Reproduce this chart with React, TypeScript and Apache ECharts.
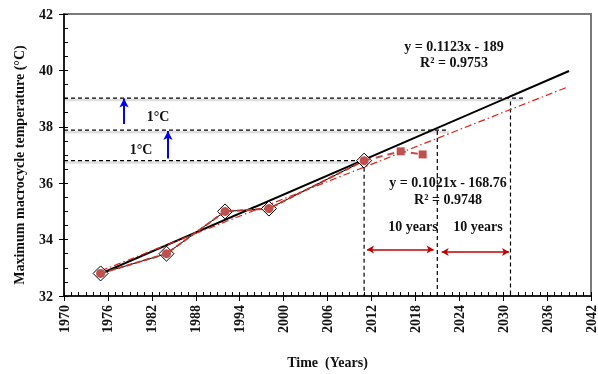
import React, { useEffect, useRef } from "react";
import * as echarts from "echarts";

// Observed data
const years = [1975, 1984, 1992, 1998, 2011];
const temps = [32.8, 33.5, 35.0, 35.1, 36.8];
const projYears = [2011, 2016, 2019];
const projTemps = [36.8, 37.13, 37.02];

// Trend lines (end points)
const blackTrendX = [1975, 2039];
const blackTrendY = [32.79, 39.98];
const redTrendX = [1975, 2038.6];
const redTrendY = [32.89, 39.39];

// Reference levels
const hLevels = [36.8, 37.88, 39.02];
const hLevelEnds = [2011, 2022.6, 2032.7];
const vYears = [2011, 2021, 2031];
const vTops = [36.8, 37.85, 38.9];

// Arrows
const blueArrowX = [1978.2, 1984.2];
const blueArrowFrom = [38.1, 36.88];
const blueArrowTo = [39.0, 37.85];
const redArrowY = [33.65, 33.56];
const redArrowFrom = [2011.4, 2021.6];
const redArrowTo = [2020.5, 2030.8];

const xTicks = { min: 1970, max: 2042, step: 6 };
const yTicks = { min: 32, max: 42, step: 2 };

const FONT = '"Liberation Serif", "Times New Roman", serif';

export default function App() {
  const ref = useRef<HTMLDivElement>(null);
  useEffect(() => {
    if (!ref.current) return;
    const chart = echarts.init(ref.current, undefined, { renderer: "svg" });
    const dashed = {
      color: "#000",
      width: 1.2,
      type: [4, 3] as any,
    };
    const hShadow = hLevels.map((lv, i) => ({
      type: "line",
      data: [
        [xTicks.min, lv - 0.07],
        [hLevelEnds[i], lv - 0.07],
      ],
      symbol: "none",
      lineStyle: { color: "rgba(0,0,0,0.13)", width: 2.5, type: "solid" },
      z: 1,
    }));
    const hSeries = hLevels.map((lv, i) => ({
      type: "line",
      data: [
        [xTicks.min, lv],
        [hLevelEnds[i], lv],
      ],
      symbol: "none",
      lineStyle: dashed,
      z: 2,
    }));
    const vSeries = vYears.map((yr, i) => ({
      type: "line",
      data: [
        [yr, vTops[i]],
        [yr, yTicks.min],
      ],
      symbol: "none",
      lineStyle: dashed,
      z: 2,
    }));
    const txt = (text: string, x: number, y: number, rotation = 0) => ({
      type: "text",
      x,
      y,
      rotation,
      style: {
        text,
        fill: "#111",
        font: `bold 14px ${FONT}`,
        textAlign: "center",
        textVerticalAlign: "middle",
        align: "center",
        verticalAlign: "middle",
      },
      z: 100,
    });
    chart.setOption({
      animation: false,
      grid: {
        left: 64,
        top: 14,
        right: 3,
        bottom: 75,
        show: true,
        borderColor: "#7a7a7a",
        borderWidth: 2,
        backgroundColor: "transparent",
      },
      xAxis: [
        {
          type: "value",
          min: xTicks.min,
          max: xTicks.max,
          interval: xTicks.step,
          axisLine: { lineStyle: { color: "#000", width: 1.5 } },
          axisTick: { show: true, length: 5, lineStyle: { color: "#000" } },
          axisLabel: {
            rotate: 90,
            margin: 9,
            color: "#111",
            fontFamily: FONT,
            fontWeight: "bold",
            fontSize: 14,
            formatter: (v: number) => String(v),
          },
          splitLine: { show: false },
          name: "Time\u00a0 (Years)",
          nameLocation: "middle",
          nameGap: 59,
          nameTextStyle: {
            color: "#111",
            fontFamily: FONT,
            fontWeight: "bold",
            fontSize: 14,
          },
        },
        {
          type: "value",
          position: "bottom",
          min: xTicks.min,
          max: xTicks.max,
          interval: 1,
          axisLine: { show: false },
          axisTick: { show: true, inside: true, length: 4, lineStyle: { color: "#000" } },
          axisLabel: { show: false },
          splitLine: { show: false },
        },
      ],
      yAxis: [
        {
          type: "value",
          min: yTicks.min,
          max: yTicks.max,
          interval: yTicks.step,
          axisLine: { show: true, lineStyle: { color: "#000", width: 1.5 } },
          axisTick: { show: true, length: 5, lineStyle: { color: "#000" } },
          axisLabel: {
            margin: 11,
            color: "#111",
            fontFamily: FONT,
            fontWeight: "bold",
            fontSize: 14,
          },
          splitLine: { show: false },
        },
        {
          type: "value",
          position: "left",
          min: yTicks.min,
          max: yTicks.max,
          interval: 0.5,
          axisLine: { show: false },
          axisTick: { show: true, inside: true, length: 4, lineStyle: { color: "#000" } },
          axisLabel: { show: false },
          splitLine: { show: false },
        },
      ],
      series: [
        ...hShadow,
        ...hSeries,
        ...vSeries,
        {
          type: "line",
          data: blackTrendX.map((x, i) => [x, blackTrendY[i]]),
          symbol: "none",
          lineStyle: { color: "#000", width: 2 },
          z: 3,
          markLine: {
            silent: true,
            symbol: ["none", "arrow"],
            symbolSize: [7, 9],
            label: { show: false },
            lineStyle: { color: "#0000ff", width: 2, type: "solid" },
            data: blueArrowX.map((x, i) => [
              { coord: [x, blueArrowFrom[i]] },
              { coord: [x, blueArrowTo[i]] },
            ]),
          },
        },
        {
          type: "line",
          data: redTrendX.map((x, i) => [x, redTrendY[i]]),
          symbol: "none",
          lineStyle: { color: "#e0201a", width: 1.2, type: [7, 3, 1.5, 3] },
          z: 3,
          markLine: {
            silent: true,
            symbol: ["arrow", "arrow"],
            symbolSize: [6, 7],
            label: { show: false },
            lineStyle: { color: "#c00000", width: 1.5, type: "solid" },
            data: redArrowY.map((y, i) => [
              { coord: [redArrowFrom[i], y] },
              { coord: [redArrowTo[i], y] },
            ]),
          },
        },
        {
          type: "line",
          data: years.map((x, i) => [x, temps[i]]),
          symbol: "diamond",
          symbolSize: 15,
          itemStyle: { color: "#ffffff", borderColor: "#000", borderWidth: 1 },
          lineStyle: { color: "#000", width: 1 },
          z: 4,
        },
        {
          type: "line",
          data: years.map((x, i) => [x, temps[i]]),
          symbol: "circle",
          symbolSize: 9,
          itemStyle: { color: "#c0504d", borderWidth: 0 },
          lineStyle: { color: "#c0392b", width: 2, type: [6, 3] },
          z: 5,
        },
        {
          type: "line",
          data: projYears.map((x, i) => ({
            value: [x, projTemps[i]],
            symbol: i === 0 ? "none" : "rect",
          })),
          symbol: "rect",
          symbolSize: 8,
          itemStyle: { color: "#c0504d", borderWidth: 0 },
          lineStyle: { color: "#c0504d", width: 2, type: [7, 5] },
          z: 5,
        },
      ],
      graphic: [
        txt("Maximum macrocycle temperature (°C)", 19, 165, Math.PI / 2),
        txt("y = 0.1123x - 189", 454, 46),
        txt("R² = 0.9753", 454, 62.5),
        txt("y = 0.1021x - 168.76", 448, 182.5),
        txt("R² = 0.9748", 448, 199),
        txt("10 years", 413, 226.5),
        txt("10 years", 478, 226.5),
        txt("1°C", 158, 116),
        txt("1°C", 141, 149),
      ],
    });
    return () => chart.dispose();
  }, []);
  return (
    <div
      ref={ref}
      style={{ position: "fixed", left: 0, top: 0, width: 598, height: 374 }}
    />
  );
}
